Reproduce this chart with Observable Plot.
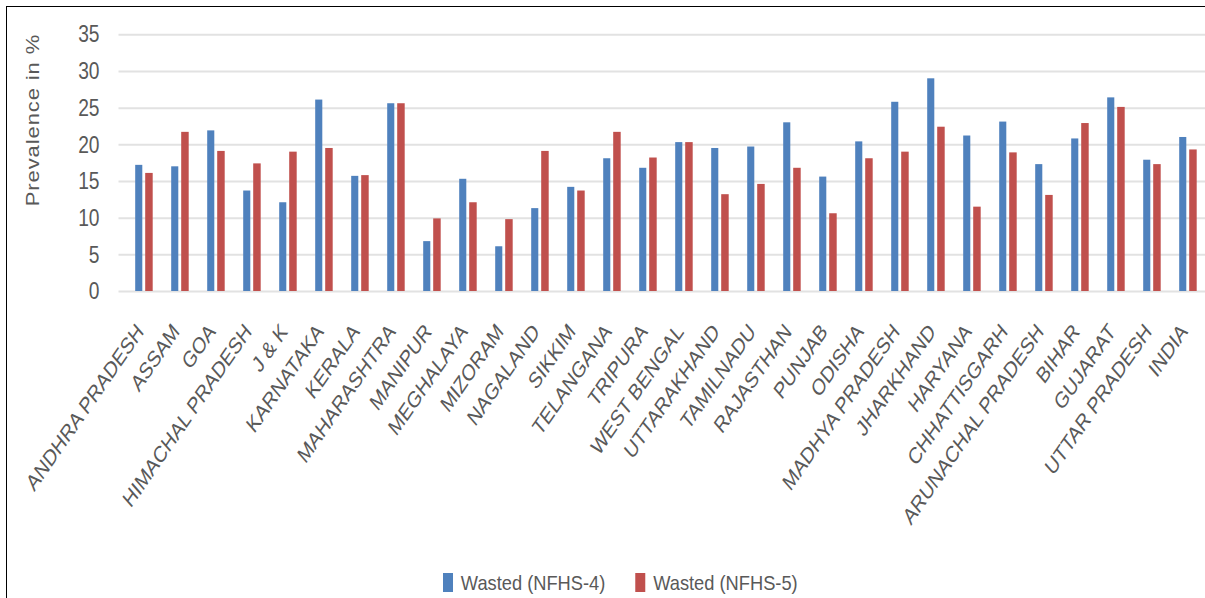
<!DOCTYPE html>
<html><head><meta charset="utf-8">
<script src="https://cdn.jsdelivr.net/npm/d3@7"></script>
<script src="https://cdn.jsdelivr.net/npm/@observablehq/plot@0.6"></script>
<style>
html,body{margin:0;padding:0;background:#fff;overflow:hidden;width:1205px;height:598px;}
#wrap{position:relative;width:1205px;height:598px;overflow:hidden;background:#fff;}
#chart{position:absolute;left:0;top:0;}
#frame{position:absolute;left:6px;top:6px;width:1300px;height:700px;border-top:1.5px solid #000;border-left:1.5px solid #000;pointer-events:none;}
#ytitle{position:absolute;left:32.5px;top:120px;transform-origin:0 0;transform:scale(0.8,1) rotate(-90deg) translate(-50%,-50%);font-family:"Liberation Sans",Arial,sans-serif;font-size:22px;letter-spacing:0.9px;color:#595959;white-space:nowrap;line-height:1;}
#legend{position:absolute;left:443px;top:566px;width:700px;transform-origin:0 0;transform:scaleX(0.87);}
.lg-swatch{margin-right:34.5px !important;}
.lg-swatch > svg{margin-right:9px !important;}
</style></head>
<body><div id="wrap"><div id="chart"></div><div id="ytitle"></div><div id="legend"></div><div id="frame"></div></div>
<script>
const states = ["ANDHRA PRADESH","ASSAM","GOA","HIMACHAL PRADESH","J & K","KARNATAKA","KERALA","MAHARASHTRA","MANIPUR","MEGHALAYA","MIZORAM","NAGALAND","SIKKIM","TELANGANA","TRIPURA","WEST BENGAL","UTTARAKHAND","TAMILNADU","RAJASTHAN","PUNJAB","ODISHA","MADHYA PRADESH","JHARKHAND","HARYANA","CHHATTISGARH","ARUNACHAL PRADESH","BIHAR","GUJARAT","UTTAR PRADESH","INDIA"];
const nfhs4 = [17.2,17.0,21.9,13.7,12.1,26.1,15.7,25.6,6.8,15.3,6.1,11.3,14.2,18.1,16.8,20.3,19.5,19.7,23.0,15.6,20.4,25.8,29.0,21.2,23.1,17.3,20.8,26.4,17.9,21.0];
const nfhs5 = [16.1,21.7,19.1,17.4,19.0,19.5,15.8,25.6,9.9,12.1,9.8,19.1,13.7,21.7,18.2,20.3,13.2,14.6,16.8,10.6,18.1,19.0,22.4,11.5,18.9,13.1,22.9,25.1,17.3,19.3];
const seriesNames = ["Wasted (NFHS-4)","Wasted (NFHS-5)"];
const seriesColors = ["#4F81BD","#C0504D"];
const yTicks = [0,5,10,15,20,25,30,35];
const yTitle = "Prevalence in %";

const rows = states.map((s, i) => ({state: s, n4: nfhs4[i], n5: nfhs5[i]}));
const textColor = "#595959";
const font = "'Liberation Sans', Arial, sans-serif";

const svg = Plot.plot({
  width: 1214,
  height: 560,
  marginLeft: 118.5,
  marginRight: 1,
  marginTop: 34.3,
  marginBottom: 269,
  style: {maxWidth: "none", fontFamily: font, background: "transparent", overflow: "visible"},
  x: {domain: states, padding: 0, axis: null},
  y: {domain: [0, 35], axis: null},
  marks: [
    Plot.ruleY(yTicks, {stroke: "#e2e2e2", strokeWidth: 2}),
    Plot.barY(rows, {x: "state", y: "n4", fill: seriesColors[0], insetLeft: 9.2, insetRight: 19.7}),
    Plot.barY(rows, {x: "state", y: "n5", fill: seriesColors[1], insetLeft: 19.2, insetRight: 9.3}),
    Plot.text(yTicks, {y: d => d, text: d => String(d), frameAnchor: "left", textAnchor: "end", lineAnchor: "middle", dx: -19.5, fontSize: 24, fill: textColor}),
    Plot.text(states, {x: d => d, text: d => d, frameAnchor: "bottom", textAnchor: "end", lineAnchor: "bottom", rotate: -48.5, dx: 0, dy: 41, fontSize: 23, fill: textColor})
  ]
});

svg.querySelectorAll("text").forEach(t => {
  const tr = t.getAttribute("transform") || "";
  if (tr.includes("rotate(")) t.setAttribute("transform", tr.replace("rotate(", "scale(0.78,1) rotate("));
  else if (tr.includes("translate(")) t.setAttribute("transform", tr + " scale(0.8,1)");
});
document.getElementById("chart").appendChild(svg);
document.getElementById("ytitle").textContent = yTitle;

const legend = Plot.legend({
  color: {type: "ordinal", domain: seriesNames, range: seriesColors},
  legend: "swatches",
  swatchWidth: 11.5,
  swatchHeight: 19,
  className: "lg",
  style: {fontFamily: font, fontSize: "21px", color: textColor}
});
document.getElementById("legend").appendChild(legend);
</script>
</body></html>
